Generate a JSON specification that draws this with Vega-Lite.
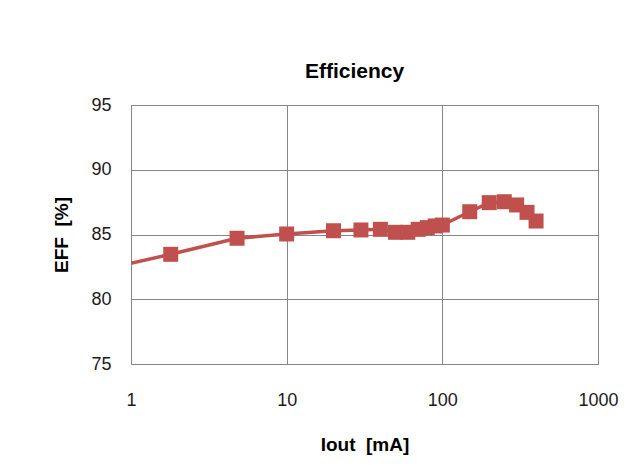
{
  "$schema": "https://vega.github.io/schema/vega-lite/v6.json",
  "width": 467,
  "height": 259,
  "autosize": {"type": "none"},
  "padding": {"left": 131, "top": 105, "right": 46, "bottom": 105},
  "background": "white",
  "title": {"text": "Efficiency", "font": "Liberation Sans", "fontSize": 21, "fontWeight": "bold", "color": "#000000", "anchor": "middle", "offset": 14, "dx": -10},
  "data": {
    "values": [
      {"iout": 0.5, "eff": 81.97},
      {"iout": 1.8, "eff": 83.47},
      {"iout": 4.8, "eff": 84.71},
      {"iout": 10, "eff": 85.04},
      {"iout": 20, "eff": 85.29},
      {"iout": 30, "eff": 85.35},
      {"iout": 40, "eff": 85.4},
      {"iout": 50, "eff": 85.17},
      {"iout": 60, "eff": 85.17},
      {"iout": 70, "eff": 85.4},
      {"iout": 80, "eff": 85.53},
      {"iout": 90, "eff": 85.66},
      {"iout": 100, "eff": 85.73},
      {"iout": 150, "eff": 86.76},
      {"iout": 200, "eff": 87.46},
      {"iout": 250, "eff": 87.53},
      {"iout": 300, "eff": 87.28},
      {"iout": 350, "eff": 86.71},
      {"iout": 400, "eff": 86.04}
    ]
  },
  "encoding": {
    "x": {
      "field": "iout", "type": "quantitative",
      "scale": {"type": "log", "domain": [1, 1000]},
      "axis": {"values": [1, 10, 100, 1000], "format": "d", "title": "Iout\u00a0\u00a0[mA]", "labelPadding": 27, "titlePadding": 26, "labelFlush": false, "labelOverlap": false}
    },
    "y": {
      "field": "eff", "type": "quantitative",
      "scale": {"domain": [75, 95]},
      "axis": {"values": [75, 80, 85, 90, 95], "title": "EFF\u00a0\u00a0[%]", "labelPadding": 20, "titlePadding": 19}
    }
  },
  "layer": [
    {"mark": {"type": "line", "color": "#C0504D", "strokeWidth": 3.5, "clip": true}},
    {"mark": {"type": "point", "shape": "square", "filled": true, "size": 225, "color": "#C0504D", "opacity": 1, "clip": true}}
  ],
  "config": {
    "view": {"stroke": "#868686", "strokeWidth": 1},
    "axis": {
      "domain": false,
      "ticks": false,
      "grid": true,
      "gridColor": "#868686",
      "gridOpacity": 1,
      "gridWidth": 1,
      "labelFont": "Liberation Sans",
      "labelFontSize": 18,
      "labelColor": "#1a1a1a",
      "titleFont": "Liberation Sans",
      "titleFontSize": 19,
      "titleFontWeight": "bold",
      "titleColor": "#000000"
    }
  }
}
